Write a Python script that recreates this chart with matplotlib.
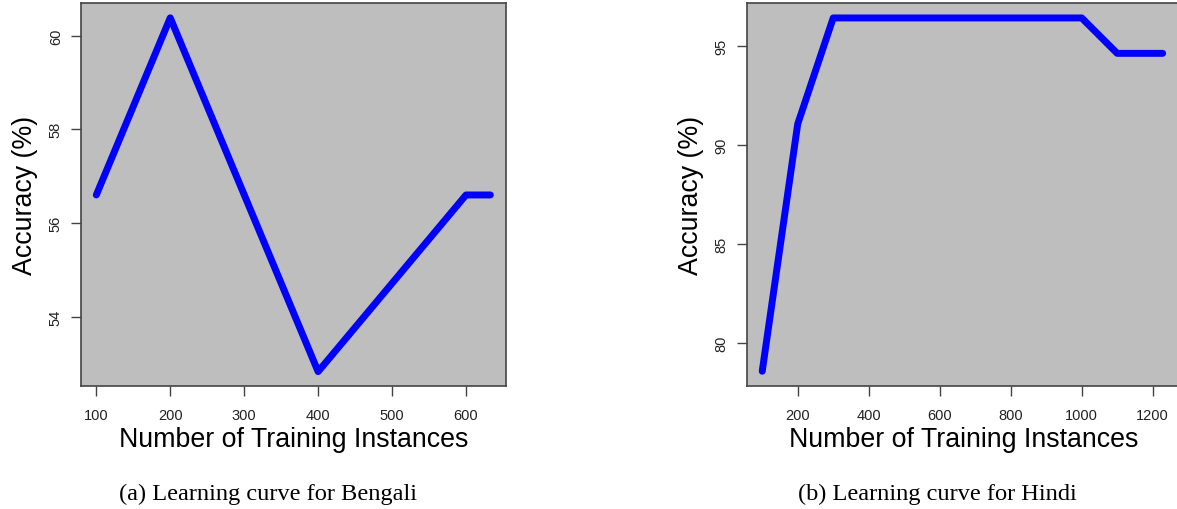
import matplotlib
matplotlib.use("Agg")
from matplotlib import pyplot as plt

# Bengali learning curve
bengali_x = [100, 200, 400, 600, 633]
bengali_acc = [56.60, 60.38, 52.83, 56.60, 56.60]
bengali_xticks = [100, 200, 300, 400, 500, 600]
bengali_yticks = [54, 56, 58, 60]

# Hindi learning curve
hindi_x = [100, 200, 300, 1000, 1100, 1228]
hindi_acc = [78.57, 91.07, 96.43, 96.43, 94.64, 94.64]
hindi_xticks = [200, 400, 600, 800, 1000, 1200]
hindi_yticks = [80, 85, 90, 95]

W, H = 1177, 510
fig = plt.figure(figsize=(W / 100, H / 100), dpi=100)


def px_axes(x0, y0, x1, y1):
    return fig.add_axes([x0 / W, 1 - y1 / H, (x1 - x0) / W, (y1 - y0) / H])


def style_axes(ax, xticks, yticks):
    ax.set_facecolor("#bebebe")
    for s in ax.spines.values():
        s.set_color("#444444")
        s.set_linewidth(1.2)
    ax.set_xticks(xticks)
    ax.set_yticks(yticks)
    ax.tick_params(direction="out", length=7, width=1, color="#444444",
                   labelsize=10.5, labelcolor="#222222")
    ax.tick_params(axis="x", pad=9)
    ax.tick_params(axis="y", pad=6)
    for lab in ax.get_yticklabels():
        lab.set_rotation(90)
        lab.set_va("center")
    ax.set_xlabel("Number of Training Instances", fontsize=19.3,
                  family="Liberation Sans", labelpad=3)
    ax.set_ylabel("Accuracy (%)", fontsize=19.3, family="Liberation Sans",
                  labelpad=8)


plt.rcParams["font.family"] = ["Liberation Sans", "DejaVu Sans"]

ax1 = px_axes(81, 4.3, 505.7, 386.7)
ax1.plot(bengali_x, bengali_acc, color="#0000ff", lw=5,
         solid_capstyle="round", solid_joinstyle="round")
ax1.set_xlim(79.3, 653.7)
ax1.set_ylim(52.53, 60.69)
style_axes(ax1, bengali_xticks, bengali_yticks)

ax2 = px_axes(746.7, 4.3, 1180, 386.7)
ax2.plot(hindi_x, hindi_acc, color="#0000ff", lw=5,
         solid_capstyle="round", solid_joinstyle="round")
ax2.set_xlim(56.3, 56.3 + (1180 - 746.7) / 0.355)
ax2.set_ylim(77.84, 97.17)
style_axes(ax2, hindi_xticks, hindi_yticks)

fig.text(268 / W, 1 - 494 / H, "(a) Learning curve for Bengali",
         family="Liberation Serif", fontsize=17.6, ha="center", va="center")
fig.text(937 / W, 1 - 494 / H, "(b) Learning curve for Hindi",
         family="Liberation Serif", fontsize=17.6, ha="center", va="center")

fig.savefig("out.png", dpi=100, facecolor="white")
